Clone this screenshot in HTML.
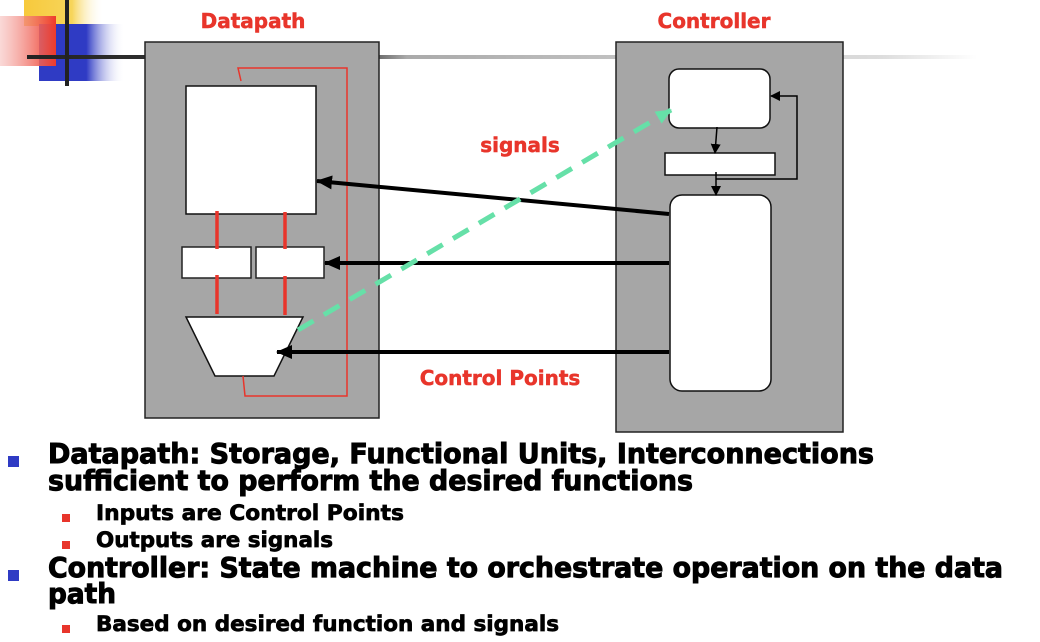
<!DOCTYPE html>
<html><head><style>body{margin:0;background:#fff}svg{display:block}</style></head><body>
<svg width="1040" height="642" viewBox="0 0 1040 642" xmlns="http://www.w3.org/2000/svg" font-family="'DejaVu Sans','Liberation Sans',sans-serif" font-weight="bold">
<defs>
<linearGradient id="gy" x1="0" x2="1"><stop offset="0" stop-color="#f7c93c"/><stop offset="0.6" stop-color="#f7d55a"/><stop offset="1" stop-color="#fff" stop-opacity="0"/></linearGradient>
<linearGradient id="gb" x1="0" x2="1"><stop offset="0" stop-color="#2f3bc4"/><stop offset="0.55" stop-color="#2f3bc4"/><stop offset="1" stop-color="#fff" stop-opacity="0"/></linearGradient>
<linearGradient id="gr" x1="1" x2="0"><stop offset="0" stop-color="#ee3a2a"/><stop offset="1" stop-color="#f6c0bd" stop-opacity="0.6"/></linearGradient>
<linearGradient id="gl" x1="0" x2="1"><stop offset="0" stop-color="#222"/><stop offset="0.35" stop-color="#444"/><stop offset="0.4" stop-color="#aaa"/><stop offset="0.9" stop-color="#ddd"/><stop offset="1" stop-color="#fff"/></linearGradient>
<marker id="ah" markerWidth="10" markerHeight="10" refX="9" refY="5" orient="auto" markerUnits="userSpaceOnUse"><path d="M0,0 L10,5 L0,10 Z" fill="#000"/></marker>
<marker id="ab" markerWidth="16" markerHeight="14" refX="15" refY="7" orient="auto" markerUnits="userSpaceOnUse"><path d="M0,0 L16,7 L0,14 Z" fill="#000"/></marker>
<marker id="ag" markerWidth="16" markerHeight="14" refX="15" refY="7" orient="auto" markerUnits="userSpaceOnUse"><path d="M0,0 L16,7 L0,14 Z" fill="#66e0a8"/></marker>
</defs>
<rect x="24" y="0" width="80" height="26" fill="url(#gy)"/>
<rect x="39" y="24" width="86" height="57" fill="url(#gb)"/>
<rect x="0" y="16" width="56" height="50" fill="url(#gr)"/>
<rect x="27" y="55" width="950" height="4" fill="url(#gl)"/>
<rect x="65" y="0" width="4" height="86" fill="#222"/>
<text x="253" y="28" fill="#e8352b" font-size="20" text-anchor="middle" stroke="#e8352b" stroke-width="0.5">Datapath</text>
<text x="714" y="28" fill="#e8352b" font-size="20" text-anchor="middle" stroke="#e8352b" stroke-width="0.5">Controller</text>
<rect x="145" y="42" width="234" height="376" fill="#a6a6a6" stroke="#222" stroke-width="1.5"/>
<rect x="616" y="42" width="227" height="390" fill="#a6a6a6" stroke="#222" stroke-width="1.5"/>
<rect x="186" y="86" width="130" height="128" fill="#fff" stroke="#111" stroke-width="1.5"/>
<rect x="182" y="247" width="69" height="31" fill="#fff" stroke="#222" stroke-width="1.5"/>
<rect x="256" y="247" width="68" height="31" fill="#fff" stroke="#222" stroke-width="1.5"/>
<path d="M186,317 L303,317 L274,376 L215,376 Z" fill="#fff" stroke="#111" stroke-width="1.5"/>
<g stroke="#e8352b" stroke-width="3.5"><line x1="217" y1="211" x2="217" y2="249"/><line x1="285" y1="212" x2="285" y2="249"/><line x1="217" y1="275" x2="217" y2="314"/><line x1="285" y1="276" x2="285" y2="315"/></g>
<path d="M243,376 L245,396 L347,396 L347,68 L238,68 L241,81" fill="none" stroke="#e8352b" stroke-width="1.5"/>
<rect x="669" y="69" width="101" height="59" rx="10" fill="#fff" stroke="#111" stroke-width="1.5"/>
<rect x="665" y="153" width="110" height="22" fill="#fff" stroke="#111" stroke-width="1.5"/>
<rect x="670" y="195" width="101" height="196" rx="12" fill="#fff" stroke="#111" stroke-width="1.5"/>
<g stroke="#000" stroke-width="1.5" fill="none">
<line x1="717" y1="127" x2="715" y2="153" marker-end="url(#ah)"/>
<line x1="716" y1="172" x2="716" y2="195" marker-end="url(#ah)"/>
<path d="M716,179 L797,179 L797,96 L771,96" marker-end="url(#ah)"/>
</g>
<g stroke="#000" stroke-width="4">
<line x1="669" y1="214" x2="317" y2="181" marker-end="url(#ab)"/>
<line x1="669" y1="263" x2="325" y2="263" marker-end="url(#ab)"/>
<line x1="669" y1="352" x2="277" y2="352" marker-end="url(#ab)"/>
</g>
<line x1="298" y1="330" x2="671" y2="110" stroke="#66e0a8" stroke-width="5" stroke-dasharray="18,12" marker-end="url(#ag)"/>
<text x="520" y="152" fill="#e8352b" font-size="20" text-anchor="middle" stroke="#e8352b" stroke-width="0.5">signals</text>
<text x="500" y="385" fill="#e8352b" font-size="20" text-anchor="middle" stroke="#e8352b" stroke-width="0.5">Control Points</text>
<g fill="#2f3bc4"><rect x="8" y="456" width="11" height="11"/><rect x="8" y="570" width="11" height="11"/></g>
<g fill="#e8352b"><rect x="62" y="514" width="8" height="8"/><rect x="62" y="541" width="8" height="8"/><rect x="62" y="625" width="8" height="8"/></g>
<g fill="#000" font-size="28" stroke="#000" stroke-width="1">
<text x="48" y="463" textLength="826" lengthAdjust="spacingAndGlyphs">Datapath: Storage, Functional Units, Interconnections</text>
<text x="48" y="490" textLength="645" lengthAdjust="spacingAndGlyphs">sufficient to perform the desired functions</text>
<text x="48" y="577" textLength="955" lengthAdjust="spacingAndGlyphs">Controller: State machine to orchestrate operation on the data</text>
<text x="48" y="603" textLength="68" lengthAdjust="spacingAndGlyphs">path</text>
</g>
<g fill="#000" font-size="21" stroke="#000" stroke-width="0.7">
<text x="96" y="520" textLength="308" lengthAdjust="spacingAndGlyphs">Inputs are Control Points</text>
<text x="96" y="547" textLength="237" lengthAdjust="spacingAndGlyphs">Outputs are signals</text>
<text x="96" y="631" textLength="463" lengthAdjust="spacingAndGlyphs">Based on desired function and signals</text>
</g>
</svg>
</body></html>
